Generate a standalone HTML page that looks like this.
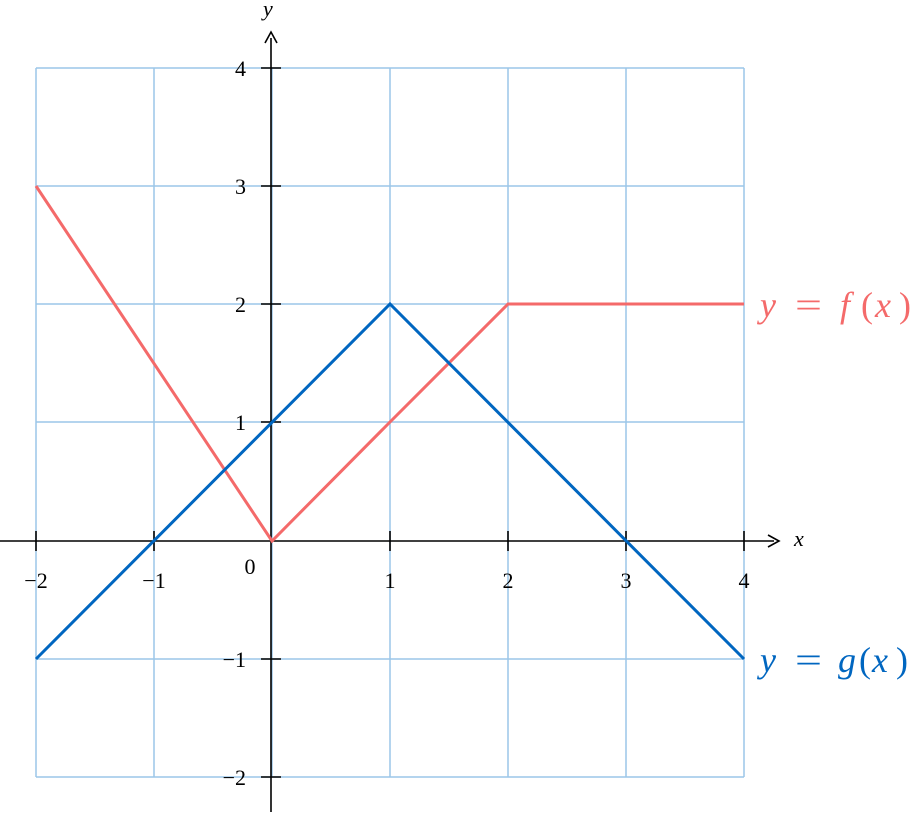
<!DOCTYPE html>
<html><head><style>body{margin:0;background:#fff}</style></head><body>
<svg width="914" height="813" viewBox="0 0 914 813" xmlns="http://www.w3.org/2000/svg" font-family="Liberation Serif, serif">
<g stroke="#9cc6e8" stroke-width="1.5" fill="none">
<line x1="36" y1="68" x2="36" y2="777"/><line x1="154" y1="68" x2="154" y2="777"/><line x1="272" y1="68" x2="272" y2="777"/><line x1="390" y1="68" x2="390" y2="777"/><line x1="508" y1="68" x2="508" y2="777"/><line x1="626" y1="68" x2="626" y2="777"/><line x1="744" y1="68" x2="744" y2="777"/>
<line x1="36" y1="68" x2="744" y2="68"/><line x1="36" y1="186" x2="744" y2="186"/><line x1="36" y1="304" x2="744" y2="304"/><line x1="36" y1="422" x2="744" y2="422"/><line x1="36" y1="659" x2="744" y2="659"/><line x1="36" y1="777" x2="744" y2="777"/>
</g>
<g stroke="#000" stroke-width="1.6">
<line x1="0" y1="541" x2="774" y2="541"/><line x1="271" y1="812" x2="271" y2="38"/>
<line x1="36" y1="531" x2="36" y2="551"/><line x1="154" y1="531" x2="154" y2="551"/><line x1="390" y1="531" x2="390" y2="551"/><line x1="508" y1="531" x2="508" y2="551"/><line x1="626" y1="531" x2="626" y2="551"/><line x1="744" y1="531" x2="744" y2="551"/>
<line x1="261" y1="68" x2="281" y2="68"/><line x1="261" y1="186" x2="281" y2="186"/><line x1="261" y1="304" x2="281" y2="304"/><line x1="261" y1="422" x2="281" y2="422"/><line x1="261" y1="659" x2="281" y2="659"/><line x1="261" y1="777" x2="281" y2="777"/>
</g>
<path d="M768 535 L779 541 L768 547" fill="none" stroke="#000" stroke-width="1.6"/>
<path d="M265 43 L271 32 L277 43" fill="none" stroke="#000" stroke-width="1.6"/>
<polyline points="36,186 272,541 390,422 508,304 744,304" fill="none" stroke="#f46a6a" stroke-width="3"/>
<polyline points="36,659 390,304 744,659" fill="none" stroke="#0066c0" stroke-width="3"/>
<g font-size="22" text-anchor="middle">
<text x="36" y="588">−2</text><text x="154" y="588">−1</text><text x="390" y="588">1</text><text x="508" y="588">2</text><text x="626" y="588">3</text><text x="744" y="588">4</text>
<text x="250" y="574">0</text>
</g>
<g font-size="22" text-anchor="end">
<text x="246" y="76">4</text><text x="246" y="194">3</text><text x="246" y="312">2</text><text x="246" y="430">1</text><text x="246" y="667">−1</text><text x="246" y="785">−2</text>
</g>
<text x="263" y="16" font-size="22" font-style="italic">y</text>
<text x="794" y="546" font-size="22" font-style="italic">x</text>
<g font-size="36" fill="#f46a6a">
<text x="760" y="317" font-style="italic">y</text><text x="795" y="317" textLength="27" lengthAdjust="spacingAndGlyphs">=</text><text x="840" y="317" font-style="italic">f</text><text x="861" y="317">(</text><text x="875" y="317" font-style="italic">x</text><text x="899" y="317">)</text>
</g>
<g font-size="36" fill="#0066c0">
<text x="760" y="672" font-style="italic">y</text><text x="795" y="672" textLength="27" lengthAdjust="spacingAndGlyphs">=</text><text x="838" y="672" font-style="italic">g</text><text x="859" y="672">(</text><text x="872" y="672" font-style="italic">x</text><text x="896" y="672">)</text>
</g>
</svg>
</body></html>
